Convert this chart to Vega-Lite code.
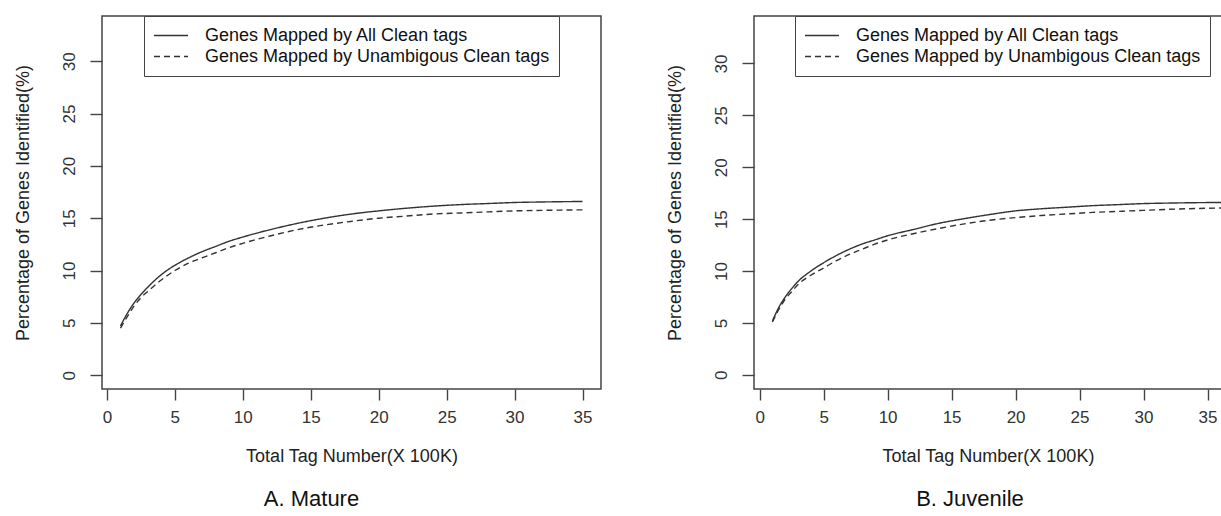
{
  "$schema": "https://vega.github.io/schema/vega-lite/v6.json",
  "padding": {"left": 13, "top": 14, "right": 0, "bottom": 0},
  "background": "white",
  "config": {
    "font": "Liberation Sans",
    "view": {"stroke": "#444", "strokeWidth": 1.5},
    "axis": {
      "grid": false, "domain": false, "tickColor": "#444", "tickWidth": 1.4,
      "labelFontSize": 17, "labelColor": "#333", "labelFont": "Liberation Sans",
      "titleFontSize": 18, "titleFontWeight": "normal", "titleColor": "#222", "titleFont": "Liberation Sans"
    },
    "axisY": {"labelAngle": -90, "tickSize": 12, "labelPadding": 12, "titlePadding": 28},
    "axisX": {"tickSize": 11, "labelPadding": 9, "titlePadding": 22},
    "legend": {
      "orient": "none", "title": null, "symbolType": "stroke", "symbolSize": 1156,
      "symbolStrokeWidth": 1.4, "symbolStrokeColor": "#333", "labelFontSize": 18,
      "labelColor": "#111", "labelFont": "Liberation Sans", "labelOffset": 16, "labelLimit": 800,
      "padding": 9, "strokeColor": "#444", "fillColor": "white", "clipHeight": 21, "rowPadding": 0
    },
    "title": {"orient": "bottom", "frame": "group", "anchor": "middle", "fontSize": 22, "fontWeight": "normal", "color": "#111", "offset": 24, "font": "Liberation Sans"}
  },
  "spacing": 63,
  "resolve": {"scale": {"x": "independent", "y": "independent", "strokeDash": "independent"}, "legend": {"strokeDash": "independent"}},
  "hconcat": [
    {
      "width": 499, "height": 373,
      "title": {"text": "A. Mature", "dx": -40},
      "data": {"values": [
        {"x":1,"y":4.7,"s":"all"},{"x":1.5,"y":5.9,"s":"all"},{"x":2,"y":6.9,"s":"all"},{"x":2.5,"y":7.7,"s":"all"},{"x":3,"y":8.4,"s":"all"},{"x":4,"y":9.6,"s":"all"},{"x":5,"y":10.5,"s":"all"},{"x":6,"y":11.2,"s":"all"},{"x":7,"y":11.8,"s":"all"},{"x":8,"y":12.3,"s":"all"},{"x":9,"y":12.8,"s":"all"},{"x":10,"y":13.2,"s":"all"},{"x":12,"y":13.9,"s":"all"},{"x":14,"y":14.5,"s":"all"},{"x":16,"y":15.0,"s":"all"},{"x":18,"y":15.4,"s":"all"},{"x":20,"y":15.7,"s":"all"},{"x":22,"y":15.95,"s":"all"},{"x":24,"y":16.15,"s":"all"},{"x":26,"y":16.3,"s":"all"},{"x":28,"y":16.4,"s":"all"},{"x":30,"y":16.5,"s":"all"},{"x":32,"y":16.55,"s":"all"},{"x":35,"y":16.6,"s":"all"},
        {"x":1,"y":4.5,"s":"unamb"},{"x":1.5,"y":5.6,"s":"unamb"},{"x":2,"y":6.6,"s":"unamb"},{"x":2.5,"y":7.4,"s":"unamb"},{"x":3,"y":8.0,"s":"unamb"},{"x":4,"y":9.1,"s":"unamb"},{"x":5,"y":10.0,"s":"unamb"},{"x":6,"y":10.7,"s":"unamb"},{"x":7,"y":11.2,"s":"unamb"},{"x":8,"y":11.7,"s":"unamb"},{"x":9,"y":12.2,"s":"unamb"},{"x":10,"y":12.6,"s":"unamb"},{"x":12,"y":13.3,"s":"unamb"},{"x":14,"y":13.9,"s":"unamb"},{"x":16,"y":14.35,"s":"unamb"},{"x":18,"y":14.7,"s":"unamb"},{"x":20,"y":15.0,"s":"unamb"},{"x":22,"y":15.2,"s":"unamb"},{"x":24,"y":15.4,"s":"unamb"},{"x":26,"y":15.5,"s":"unamb"},{"x":28,"y":15.6,"s":"unamb"},{"x":30,"y":15.7,"s":"unamb"},{"x":32,"y":15.75,"s":"unamb"},{"x":35,"y":15.8,"s":"unamb"}
      ]},
      "mark": {"type": "line", "clip": true, "color": "#333", "strokeWidth": 1.4, "interpolate": "monotone"},
      "encoding": {
        "x": {"field": "x", "type": "quantitative", "scale": {"domain": [-0.36, 36.36], "nice": false, "zero": false},
              "axis": {"values": [0,5,10,15,20,25,30,35], "title": "Total Tag Number(X 100K)"}},
        "y": {"field": "y", "type": "quantitative", "scale": {"domain": [-1.32, 34.32], "nice": false, "zero": false},
              "axis": {"values": [0,5,10,15,20,25,30], "title": "Percentage of Genes Identified(%)"}},
        "strokeDash": {"field": "s", "type": "nominal",
              "scale": {"domain": ["all","unamb"], "range": [[1,0],[6,4]]},
              "legend": {"legendX": 42, "legendY": 0,
                "labelExpr": "(datum.value == 'all' ? 'Genes Mapped by All Clean tags' : 'Genes Mapped by Unambigous Clean tags') + '\u00a0\u00a0\u00a0\u00a0\u00a0'"}}
      }
    },
    {
      "width": 468, "height": 373,
      "title": {"text": "B. Juvenile", "dx": -18},
      "data": {"values": [
        {"x":1,"y":5.2,"s":"all"},{"x":1.5,"y":6.5,"s":"all"},{"x":2,"y":7.5,"s":"all"},{"x":2.5,"y":8.3,"s":"all"},{"x":3,"y":9.0,"s":"all"},{"x":4,"y":10.0,"s":"all"},{"x":5,"y":10.8,"s":"all"},{"x":6,"y":11.5,"s":"all"},{"x":7,"y":12.1,"s":"all"},{"x":8,"y":12.6,"s":"all"},{"x":9,"y":13.0,"s":"all"},{"x":10,"y":13.4,"s":"all"},{"x":12,"y":14.0,"s":"all"},{"x":14,"y":14.6,"s":"all"},{"x":16,"y":15.05,"s":"all"},{"x":18,"y":15.45,"s":"all"},{"x":20,"y":15.8,"s":"all"},{"x":22,"y":16.0,"s":"all"},{"x":24,"y":16.15,"s":"all"},{"x":26,"y":16.3,"s":"all"},{"x":28,"y":16.4,"s":"all"},{"x":30,"y":16.5,"s":"all"},{"x":32,"y":16.55,"s":"all"},{"x":35,"y":16.6,"s":"all"},{"x":37,"y":16.62,"s":"all"},
        {"x":1,"y":5.1,"s":"unamb"},{"x":1.5,"y":6.3,"s":"unamb"},{"x":2,"y":7.3,"s":"unamb"},{"x":2.5,"y":8.0,"s":"unamb"},{"x":3,"y":8.7,"s":"unamb"},{"x":4,"y":9.6,"s":"unamb"},{"x":5,"y":10.3,"s":"unamb"},{"x":6,"y":11.0,"s":"unamb"},{"x":7,"y":11.6,"s":"unamb"},{"x":8,"y":12.1,"s":"unamb"},{"x":9,"y":12.6,"s":"unamb"},{"x":10,"y":13.0,"s":"unamb"},{"x":12,"y":13.6,"s":"unamb"},{"x":14,"y":14.1,"s":"unamb"},{"x":16,"y":14.55,"s":"unamb"},{"x":18,"y":14.9,"s":"unamb"},{"x":20,"y":15.15,"s":"unamb"},{"x":22,"y":15.35,"s":"unamb"},{"x":24,"y":15.5,"s":"unamb"},{"x":26,"y":15.65,"s":"unamb"},{"x":28,"y":15.75,"s":"unamb"},{"x":30,"y":15.85,"s":"unamb"},{"x":32,"y":15.95,"s":"unamb"},{"x":35,"y":16.05,"s":"unamb"},{"x":37,"y":16.1,"s":"unamb"}
      ]},
      "mark": {"type": "line", "clip": true, "color": "#333", "strokeWidth": 1.4, "interpolate": "monotone"},
      "encoding": {
        "x": {"field": "x", "type": "quantitative", "scale": {"domain": [-0.44, 36.13], "nice": false, "zero": false},
              "axis": {"values": [0,5,10,15,20,25,30,35], "title": "Total Tag Number(X 100K)"}},
        "y": {"field": "y", "type": "quantitative", "scale": {"domain": [-1.36, 34.57], "nice": false, "zero": false},
              "axis": {"values": [0,5,10,15,20,25,30], "title": "Percentage of Genes Identified(%)"}},
        "strokeDash": {"field": "s", "type": "nominal",
              "scale": {"domain": ["all","unamb"], "range": [[1,0],[6,4]]},
              "legend": {"legendX": 41, "legendY": 0,
                "labelExpr": "datum.value == 'all' ? 'Genes Mapped by All Clean tags' : 'Genes Mapped by Unambigous Clean tags'"}}
      }
    }
  ]
}
